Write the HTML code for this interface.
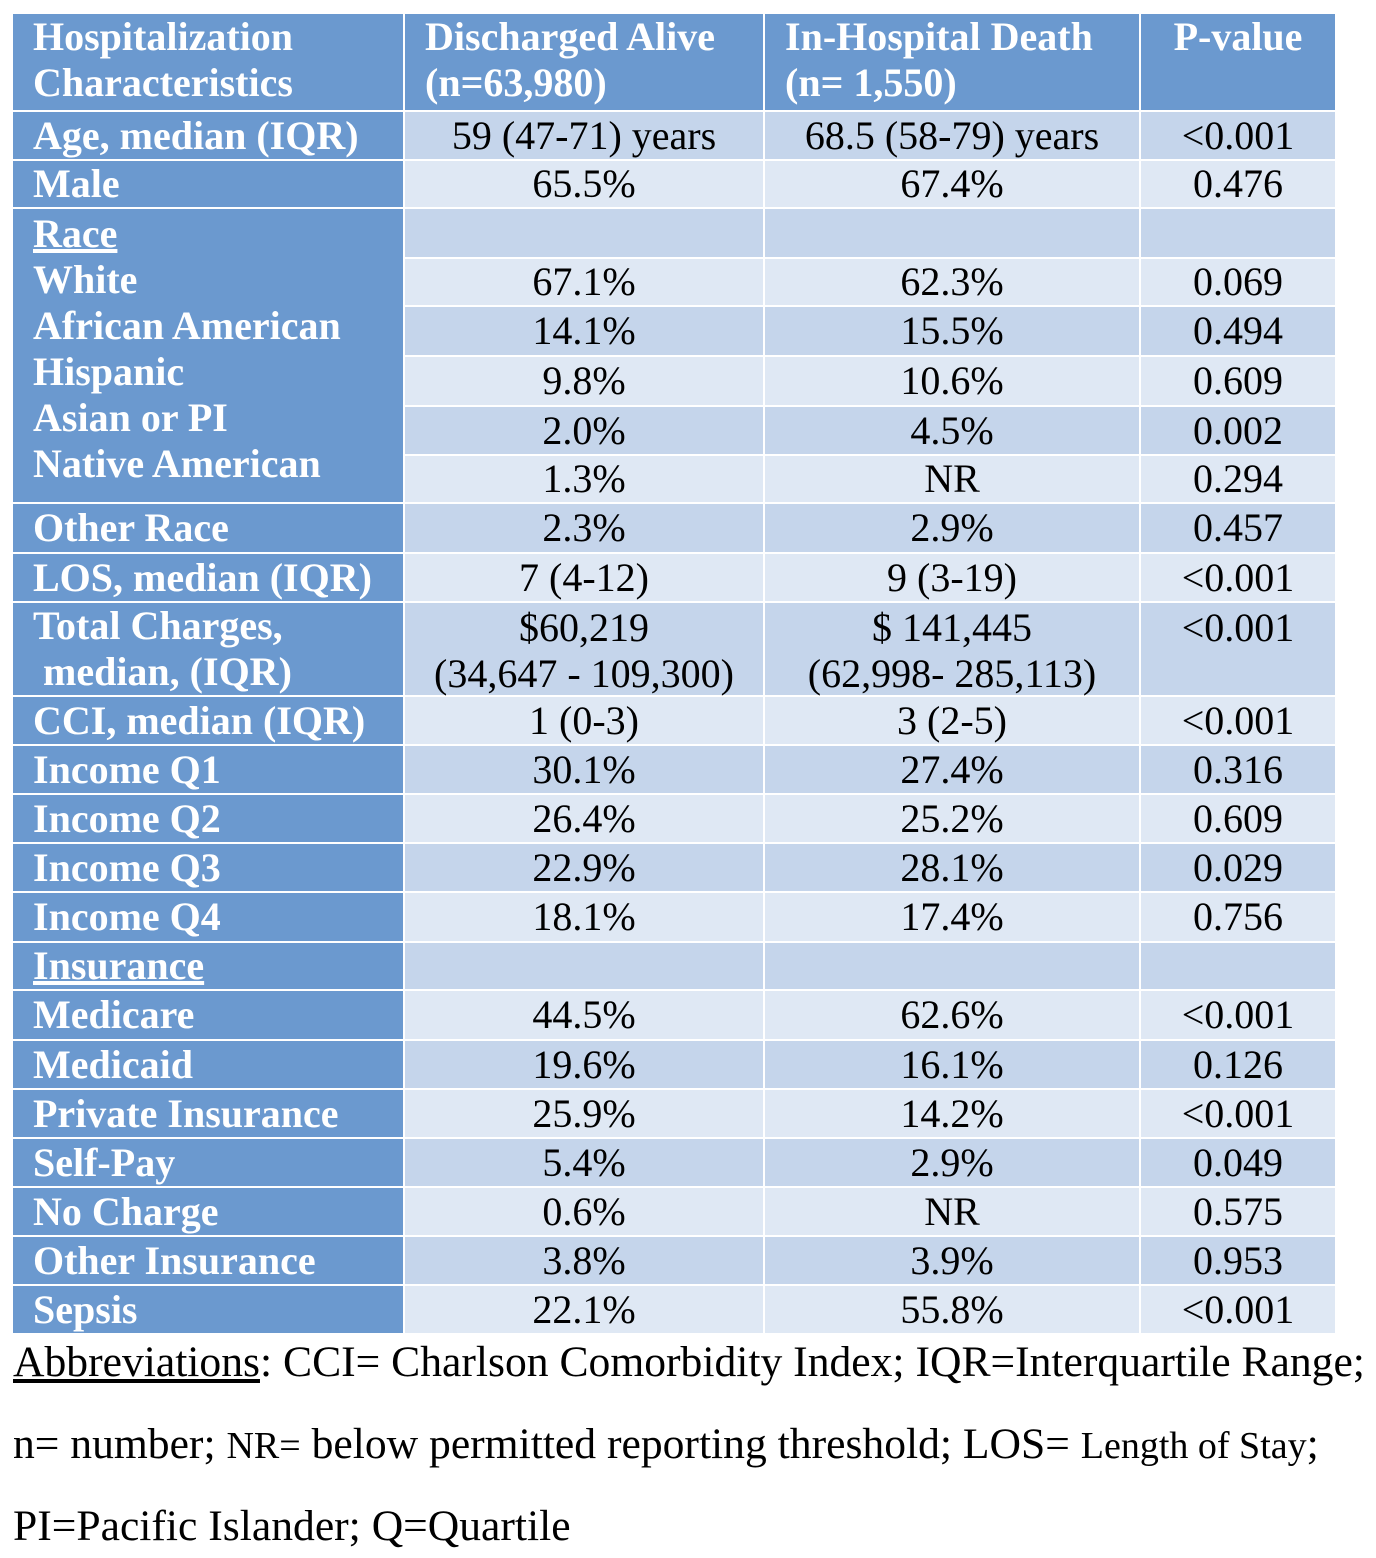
<!DOCTYPE html>
<html><head><meta charset="utf-8"><style>
body{margin:0;width:1376px;height:1558px;background:#fff;position:relative;font-family:"Liberation Serif",serif;overflow:hidden}
.c{position:absolute;box-sizing:border-box;color:#000;font-size:40px;line-height:46px;display:flex;align-items:center;justify-content:center;text-align:center;white-space:nowrap}
.h{background:#6b99cf;color:#fff;font-weight:bold;justify-content:flex-start;text-align:left;padding-left:20px}
.foot{position:absolute;left:13px;font-size:43.6px;white-space:nowrap}
.s{font-size:38px}
</style></head><body>
<div id="tbl"></div>
<div class="foot" style="top:1337px"><u>Abbreviations</u>: CCI= Charlson Comorbidity Index; IQR=Interquartile Range;</div>
<div class="foot" style="top:1419px">n= number; <span class="s">NR=</span> below permitted reporting threshold; LOS= <span class="s">Length of Stay</span>;</div>
<div class="foot" style="top:1501px">PI=Pacific Islander; Q=Quartile</div>
<script>
const colX=[12,404,764,1140,1336];
const rowY=[111,160,208,258,306,356,406,455,503,553,602,696,745,794,843,892,942,990,1040,1089,1138,1187,1236,1285,1334];
const headers=["Hospitalization<br>Characteristics","Discharged Alive<br>(n=63,980)","In-Hospital Death<br>(n= 1,550)","P-value"];
const labels=["Age, median (IQR)","Male",null,null,null,null,null,null,"Other Race","LOS, median (IQR)","Total Charges,<br>&nbsp;median, (IQR)","CCI, median (IQR)","Income Q1","Income Q2","Income Q3","Income Q4","<u>Insurance</u>","Medicare","Medicaid","Private Insurance","Self-Pay","No Charge","Other Insurance","Sepsis"];
const raceLabels="<u>Race</u><br>White<br>African American<br>Hispanic<br>Asian or PI<br>Native American";
const alive=["59 (47-71) years","65.5%","","67.1%","14.1%","9.8%","2.0%","1.3%","2.3%","7 (4-12)","$60,219<br>(34,647 - 109,300)","1 (0-3)","30.1%","26.4%","22.9%","18.1%","","44.5%","19.6%","25.9%","5.4%","0.6%","3.8%","22.1%"];
const death=["68.5 (58-79) years","67.4%","","62.3%","15.5%","10.6%","4.5%","NR","2.9%","9 (3-19)","$ 141,445<br>(62,998- 285,113)","3 (2-5)","27.4%","25.2%","28.1%","17.4%","","62.6%","16.1%","14.2%","2.9%","NR","3.9%","55.8%"];
const pval=["<0.001","0.476","","0.069","0.494","0.609","0.002","0.294","0.457","<0.001","<0.001","<0.001","0.316","0.609","0.029","0.756","","<0.001","0.126","<0.001","0.049","0.575","0.953","<0.001"];
const T=document.getElementById('tbl');
function esc(s){return s.replace(/<(?![a-z\/])/g,'&lt;');}
function cell(x0,x1,y0,y1,html,cls,bg){const d=document.createElement('div');d.className='c '+cls;d.style.left=(x0+1)+'px';d.style.top=(y0+1)+'px';d.style.width=(x1-x0-2)+'px';d.style.height=(y1-y0-2)+'px';if(bg)d.style.background=bg;const s=document.createElement('div');s.innerHTML=esc(html);d.appendChild(s);T.appendChild(d);return d;}
for(let i=0;i<4;i++){const d=cell(colX[i],colX[i+1],13,rowY[0],headers[i],'h');d.style.top='14px';d.style.alignItems='flex-start';if(i==3){d.style.justifyContent='center';d.style.paddingLeft='0';}

}
for(let r=0;r<labels.length;r++){
 if(labels[r]!==null){const d=cell(colX[0],colX[1],rowY[r],rowY[r+1],labels[r],'h');
 
 }
 const bg=r%2==0?'#c5d5eb':'#dfe8f4';
 const vals=[alive[r],death[r],pval[r]];
 for(let k=0;k<3;k++){const d=cell(colX[k+1],colX[k+2],rowY[r],rowY[r+1],vals[k],'',bg);
 if(r==10){d.style.alignItems='flex-start';d.style.paddingTop='2px';}
 
 }
}
const rb=cell(colX[0],colX[1],rowY[2],rowY[8],raceLabels,'h');
rb.style.alignItems='flex-start';rb.style.paddingTop='2px';


</script>
</body></html>
